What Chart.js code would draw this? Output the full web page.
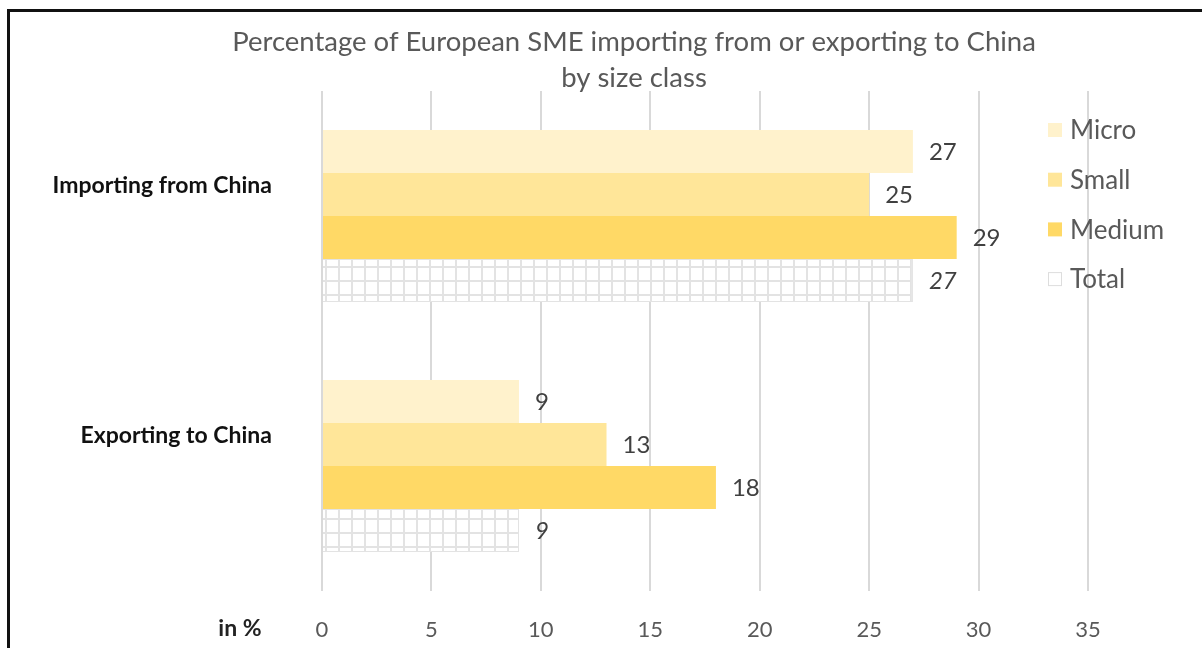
<!DOCTYPE html>
<html lang="en">
<head>
  <meta charset="UTF-8" />
  <title>European SME trade with China</title>
  <script src="https://cdn.jsdelivr.net/npm/chart.js"></script>
  <style>
    body {
      margin: 0;
      background: #ffffff;
      overflow: hidden;
    }

    .wrap {
      position: relative;
      width: 1202px;
      height: 648px;
    }

    .frame {
      position: absolute;
      left: 7px;
      top: 9px;
      width: 1300px;
      height: 800px;
      border-top: 3px solid #111;
      border-left: 3px solid #111;
      pointer-events: none;
    }
  </style>
</head>
<body>
  <div class="wrap">
    <canvas id="smeChart" width="1202" height="648"></canvas>
    <div class="frame"></div>
  </div>

  <script>
    const categories = ['Importing from China', 'Exporting to China'];
    const sizeClasses = ['Micro', 'Small', 'Medium', 'Total'];
    const micro = [27, 9];
    const small = [25, 13];
    const medium = [29, 18];
    const total = [27, 9];
    const xTicks = [0, 5, 10, 15, 20, 25, 30, 35];
    const titleLines = ['Percentage of European SME importing from or exporting to China', 'by size class'];

    const FONT = 'Lato, "Open Sans", sans-serif';
    Chart.defaults.font.family = FONT;

    // grid pattern used for the "Total" bars
    function gridPattern() {
      const c = document.createElement('canvas');
      c.width = 13;
      c.height = 14;
      const g = c.getContext('2d');
      g.fillStyle = '#ffffff';
      g.fillRect(0, 0, 13, 14);
      g.fillStyle = '#e3e3e3';
      g.fillRect(0, 0, 2, 14);
      g.fillRect(0, 0, 13, 2);
      return g.createPattern(c, 'repeat');
    }

    const ctx = document.getElementById('smeChart').getContext('2d');
    const colors = ['#fff2cc', '#ffe699', '#ffd966', gridPattern()];
    const series = [micro, small, medium, total];

    const titlePlugin = {
      id: 'titleText',
      afterDraw(chart) {
        const c = chart.ctx;
        c.save();
        c.fillStyle = '#595959';
        c.font = '27.5px ' + FONT;
        c.textAlign = 'center';
        c.textBaseline = 'middle';
        c.fillText(titleLines[0], 634, 42);
        c.fillText(titleLines[1], 634, 78);
        c.restore();
      }
    };

    const valueLabels = {
      id: 'valueLabels',
      afterDatasetsDraw(chart) {
        const c = chart.ctx;
        c.save();
        c.fillStyle = '#404040';
        c.textAlign = 'left';
        c.textBaseline = 'middle';
        chart.data.datasets.forEach((ds, i) => {
          const meta = chart.getDatasetMeta(i);
          c.font = (ds.label === 'Total' ? 'italic ' : '') + '24px ' + FONT;
          meta.data.forEach((bar, j) => {
            c.fillText(String(ds.data[j]), bar.x + 16, bar.y + 1);
          });
        });
        c.restore();
      }
    };

    // legend sits inside the plot, on the right
    const sideLegend = {
      id: 'sideLegend',
      afterDraw(chart) {
        const c = chart.ctx;
        c.save();
        c.textBaseline = 'middle';
        c.textAlign = 'left';
        c.font = '26px ' + FONT;
        chart.data.datasets.forEach((ds, i) => {
          const y = 130 + i * 49.7;
          if (ds.label === 'Total') {
            c.fillStyle = '#ffffff';
            c.fillRect(1048, y - 7, 14, 14);
            c.strokeStyle = '#dddddd';
            c.lineWidth = 1;
            c.strokeRect(1048.5, y - 6.5, 13, 13);
          } else {
            c.fillStyle = ds.backgroundColor;
            c.fillRect(1048, y - 7, 14, 14);
          }
          c.fillStyle = '#595959';
          c.fillText(ds.label, 1070, y + 1);
        });
        // unit label next to the x ticks
        c.fillStyle = '#222';
        c.font = 'bold 23px ' + FONT;
        c.textAlign = 'center';
        c.fillText('in %', 240, 629);
        c.restore();
      }
    };

    new Chart(ctx, {
      type: 'bar',
      data: {
        labels: categories,
        datasets: sizeClasses.map((name, i) => ({
          label: name,
          data: series[i],
          backgroundColor: colors[i],
          borderColor: name === 'Total' ? '#e3e3e3' : 'transparent',
          borderWidth: name === 'Total' ? 1 : 0,
          categoryPercentage: 0.688,
          barPercentage: 1
        }))
      },
      options: {
        indexAxis: 'y',
        responsive: false,
        animation: false,
        layout: { padding: { top: 91, right: 114, bottom: 0, left: 0 } },
        plugins: {
          legend: { display: false },
          title: { display: false },
          tooltip: { enabled: false }
        },
        scales: {
          x: {
            min: 0,
            max: 35,
            afterBuildTicks(scale) {
              scale.ticks = xTicks.map(v => ({ value: v }));
            },
            afterFit(scale) { scale.height = 57; },
            grid: { color: '#d9d9d9', lineWidth: 2, drawTicks: false },
            border: { display: false },
            ticks: { color: '#595959', font: { size: 22 }, padding: 26 }
          },
          y: {
            afterFit(scale) {
              // keep the label gap from eating into the plot height
              scale.width = 322;
              scale.paddingTop = 0;
              scale.paddingBottom = 0;
            },
            grid: { display: false, drawTicks: false },
            border: { display: false },
            ticks: {
              color: '#111',
              font: { size: 23, weight: 'bold' },
              padding: 50,
              labelOffset: -30
            }
          }
        }
      },
      plugins: [titlePlugin, valueLabels, sideLegend]
    });
  </script>
</body>
</html>
